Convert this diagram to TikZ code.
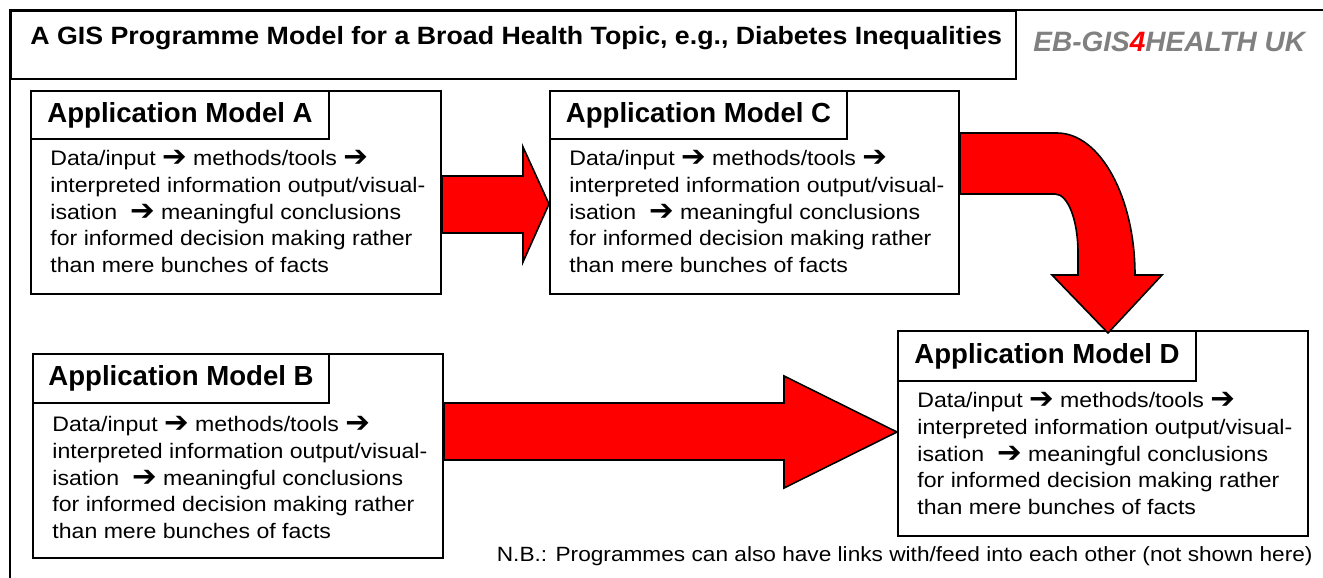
\documentclass[tikz,border=0pt]{standalone}
\usepackage{fontspec}
\setmainfont{Liberation Sans}
\newfontfamily\symf{DejaVu Sans}
\newfontfamily\bodyf{Liberation Sans}[FakeStretch=1.1]
\newfontfamily\titlef{Liberation Sans}[FakeStretch=1.07]
\newcommand{\harr}{\raisebox{-0.1ex}{\scalebox{1.4}{\symf\bfseries ➔}}}
\definecolor{logogray}{RGB}{128,128,128}
\begin{document}
\begin{tikzpicture}[x=0.5pt,y=-0.5pt,
  box/.style={draw=black, line width=1pt, fill=white, inner sep=0pt, anchor=north west},
  hdr/.style={draw=black, line width=1pt, inner sep=0pt, anchor=north west,
    font=\bfseries\fontsize{13.8pt}{16pt}\selectfont},
  bodytxt/.style={anchor=north west, inner sep=0pt, align=left,
    font=\bodyf\fontsize{10.5pt}{13.35pt}\selectfont},
  redarrow/.style={fill=red, draw=black, line width=0.8pt, line join=miter}]
\useasboundingbox (0,0) rectangle (1323,578);
% outer frame
\draw[line width=1pt] (10,578) -- (10,10) -- (1323,10);
\node[box, minimum width=502.5pt, minimum height=34pt] (title) at (10,10) {};
\node[anchor=west, inner sep=0pt, font=\titlef\bfseries\fontsize{12.5pt}{15pt}\selectfont] (ttl) at (30,38)
  {A GIS Programme Model for a Broad Health Topic, e.g., Diabetes Inequalities};
\node[anchor=west, inner sep=0pt, text=logogray, font=\bfseries\itshape\fontsize{14pt}{16pt}\selectfont] (logo) at (1033,42)
  {EB-GIS{\color{red}4}HEALTH UK};
% boxes
\node[box, minimum width=205pt, minimum height=101.5pt] (boxA) at (30,90) {};
\node[hdr, minimum width=149pt, minimum height=24pt] (hA) at (boxA.north west) {Application Model A};
\node[bodytxt] (tA) at (50,150) {Data/input \harr{} methods/tools \harr\\interpreted information output/visual-\\isation \ \harr{} meaningful conclusions\\for informed decision making rather\\than mere bunches of facts};

\node[box, minimum width=204.5pt, minimum height=101.5pt] (boxC) at (549,90) {};
\node[hdr, minimum width=148.5pt, minimum height=24pt] (hC) at (boxC.north west) {Application Model C};
\node[bodytxt] (tC) at (569,150) {Data/input \harr{} methods/tools \harr\\interpreted information output/visual-\\isation \ \harr{} meaningful conclusions\\for informed decision making rather\\than mere bunches of facts};

\node[box, minimum width=205pt, minimum height=102pt] (boxB) at (32,353) {};
\node[hdr, minimum width=148pt, minimum height=24.5pt] (hB) at (boxB.north west) {Application Model B};
\node[bodytxt] (tB) at (52,416) {Data/input \harr{} methods/tools \harr\\interpreted information output/visual-\\isation \ \harr{} meaningful conclusions\\for informed decision making rather\\than mere bunches of facts};

\node[box, minimum width=205pt, minimum height=102.5pt] (boxD) at (897,330) {};
\node[hdr, minimum width=149pt, minimum height=25pt] (hD) at (boxD.north west) {Application Model D};
\node[bodytxt] (tD) at (917,392) {Data/input \harr{} methods/tools \harr\\interpreted information output/visual-\\isation \ \harr{} meaningful conclusions\\for informed decision making rather\\than mere bunches of facts};

% block arrows
\draw[redarrow] (boxA.east |- 0,176) -- (523,176) -- (523,147) -- (boxC.west |- 0,204) -- (523,262) -- (523,233) -- (boxA.east |- 0,233) -- cycle;
\draw[redarrow] (boxB.east |- 0,403) -- (784,403) -- (784,376) -- (boxD.west |- 0,432) -- (784,488) -- (784,460) -- (boxB.east |- 0,460) -- cycle;
\draw[redarrow] (boxC.east |- 0,133) -- (1057,133) .. controls (1100,133) and (1135,197) .. (1135,275)
  -- (1162,275) -- (1108,333) -- (1052,275) -- (1078,275) -- (1078,253)
  .. controls (1078,220) and (1068,194) .. (1055,194) -- (boxC.east |- 0,194) -- cycle;

\node[anchor=east, inner sep=0pt, font=\bodyf\fontsize{10.3pt}{12pt}\selectfont] (nb) at (1313,556)
  {N.B.: Programmes can also have links with/feed into each other (not shown here)};
\end{tikzpicture}
\end{document}
